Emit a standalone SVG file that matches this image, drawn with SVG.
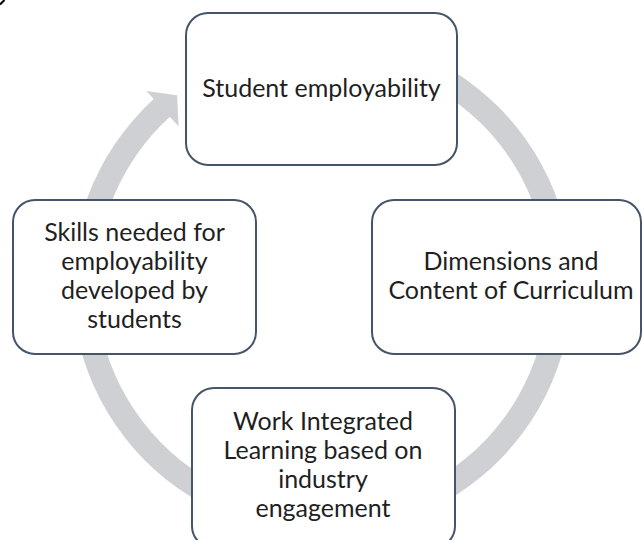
<svg xmlns="http://www.w3.org/2000/svg" width="642" height="540" viewBox="0 0 642 540">
  <style>
    .box { fill: #FFFFFF; stroke: #44546A; stroke-width: 2; }
    .lbl { font-family: Lato, "Open Sans", "Liberation Sans", sans-serif; font-size: 25px; fill: #1F1F1F; text-anchor: middle; }
    .ring { fill: #CFD0D4; }
  </style>
  <rect width="642" height="540" fill="#FFFFFF"/>
  <path d="M4.5 0 L0 4.5" stroke="#000000" stroke-width="2"/>
  <g id="connectors">
    <path class="ring" d="M278.59 37.80 A250 250 0 1 1 153.75 99.10 L146.35 90.96 L177.1 95.2 L178.65 126.47 L169.9 116.85 A226 226 0 1 0 282.75 61.43 Z"/>
  </g>
  <g id="node-student-employability">
    <rect class="box" x="186" y="13" width="271" height="152" rx="22" ry="22"/>
    <text class="lbl" x="321.5" y="97">Student employability</text>
  </g>
  <g id="node-dimensions">
    <rect class="box" x="372" y="200" width="269" height="154" rx="22" ry="22"/>
    <text class="lbl" x="511" y="270">Dimensions and</text>
    <text class="lbl" x="511" y="299">Content of Curriculum</text>
  </g>
  <g id="node-wil">
    <rect class="box" x="192" y="388" width="263" height="160" rx="22" ry="22"/>
    <text class="lbl" x="323" y="430">Work Integrated</text>
    <text class="lbl" x="323" y="459">Learning based on</text>
    <text class="lbl" x="323" y="488">industry</text>
    <text class="lbl" x="323" y="517">engagement</text>
  </g>
  <g id="node-skills">
    <rect class="box" x="13" y="200" width="243" height="154" rx="22" ry="22"/>
    <text class="lbl" x="134.5" y="241">Skills needed for</text>
    <text class="lbl" x="134.5" y="270">employability</text>
    <text class="lbl" x="134.5" y="299">developed by</text>
    <text class="lbl" x="134.5" y="328">students</text>
  </g>
</svg>
